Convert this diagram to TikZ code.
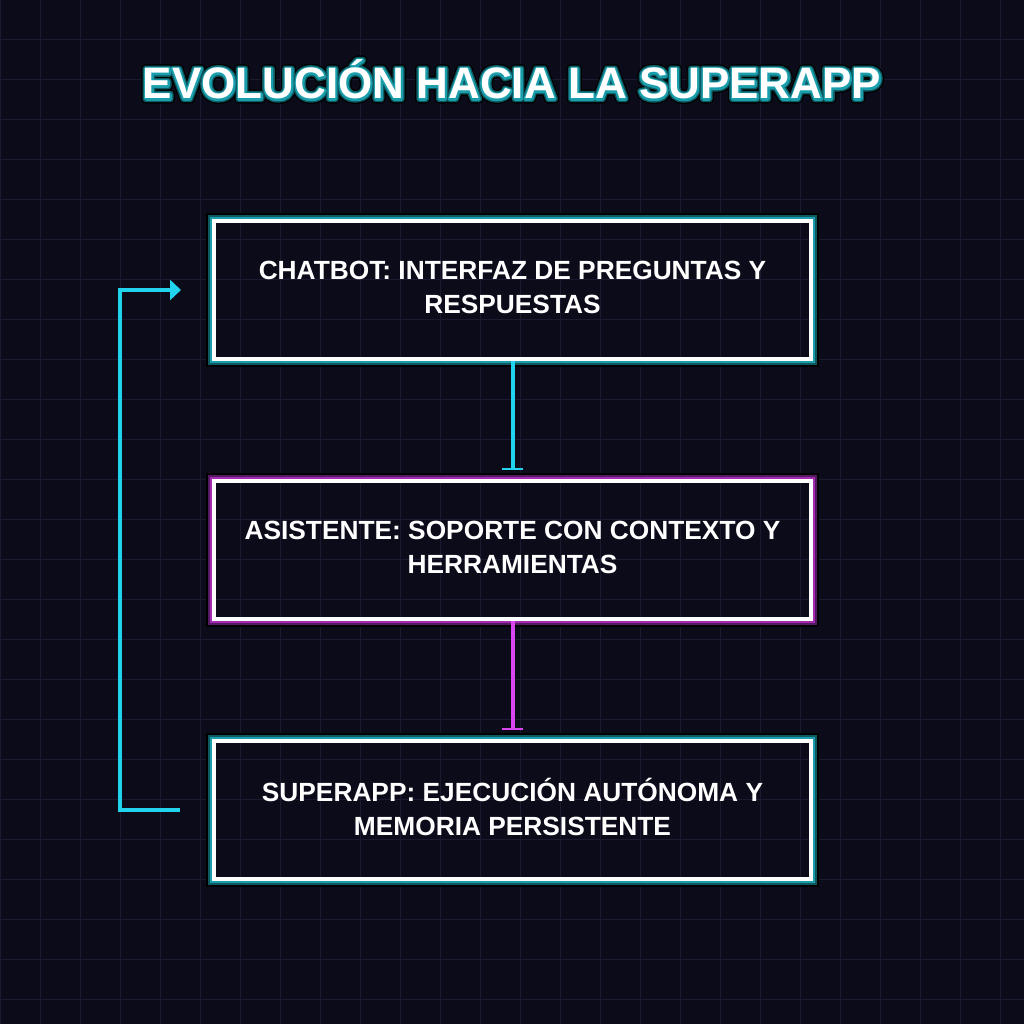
\documentclass[tikz,border=0pt]{standalone}
\usepackage{fontspec}
\setmainfont{Liberation Sans}
\usetikzlibrary{arrows.meta}
\definecolor{nightbg}{HTML}{0C0B1A}
\definecolor{gridline}{HTML}{1B1A31}
\definecolor{neoncyan}{HTML}{22D3EE}
\definecolor{neonpink}{HTML}{D946EF}
\definecolor{tealglow}{HTML}{1A9EAC}
\definecolor{tealdeep}{HTML}{0E5860}
\definecolor{pinkglow}{HTML}{A22BB2}
\definecolor{pinkdeep}{HTML}{561964}

%% 文字描邊: #1 = 描邊顏色 (RGB), #2 = 線寬
\newcommand\rimtext[3]{\special{pdf:literal direct #1 RG #2 w 1 j 1 Tr}#3\special{pdf:literal direct 0 Tr}}

\begin{document}
\begin{tikzpicture}[x=1pt, y=1pt, >=stealth,
    stage/.style={draw=white, line width=3.5pt, outer sep=0pt, inner sep=0pt,
                  minimum width=597pt, minimum height=138pt, text=white, align=center,
                  text depth=6pt, font=\bfseries\fontsize{26.3}{34}\selectfont},
    flow/.style={line width=4pt, -{Bar[width=21pt, line width=2pt]}},
    loopback/.style={draw=neoncyan, line width=3.5pt, -{Triangle[length=11pt, width=20pt]}},
    headline/.style={font=\bfseries\fontsize{44}{50}\selectfont, inner sep=0pt, anchor=base, text=white}]

  %% 背景與格線
  \fill[nightbg] (0,0) rectangle (1024,1024);
  \useasboundingbox (0,0) rectangle (1024,1024);
  \foreach \k in {0,40,...,1000} {
    \draw[gridline, line width=1pt] (\k,0) -- (\k,1024);
    \draw[gridline, line width=1pt] (0,1024-\k) -- (1024,1024-\k);
  }

  %% 標題 (三層描邊 + 白字)
  \node[headline] (title-shade) at (512,925) {\rimtext{0 0 0}{9}{EVOLUCIÓN HACIA LA SUPERAPP}};
  \node[headline] (title-dark)  at (512,925) {\rimtext{0.055 0.345 0.376}{6.4}{EVOLUCIÓN HACIA LA SUPERAPP}};
  \node[headline] (title-glow)  at (512,925) {\rimtext{0.102 0.62 0.675}{3.6}{EVOLUCIÓN HACIA LA SUPERAPP}};
  \node[headline] (title)       at (512,925) {EVOLUCIÓN HACIA LA SUPERAPP};

  %% 三個階段
  \node[stage] (chat)  at (512.5,734) {CHATBOT: INTERFAZ DE PREGUNTAS Y\\RESPUESTAS};
  \node[stage] (asis)  at (512.5,474) {ASISTENTE: SOPORTE CON CONTEXTO Y\\HERRAMIENTAS};
  \node[stage] (super) at (512.5,214) {SUPERAPP: EJECUCIÓN AUTÓNOMA Y\\MEMORIA PERSISTENTE};

  %% 方框外的光暈
  \foreach \n/\hi/\lo in {chat/tealglow/tealdeep, asis/pinkglow/pinkdeep, super/tealglow/tealdeep} {
    \draw[\hi, line width=2pt] ([shift={(-2.75,2.75)}]\n.north west) rectangle ([shift={(2.75,-2.75)}]\n.south east);
    \draw[\lo, line width=2pt] ([shift={(-4.75,4.75)}]\n.north west) rectangle ([shift={(4.75,-4.75)}]\n.south east);
    \draw[black, line width=2.2pt] ([shift={(-6.85,6.85)}]\n.north west) rectangle ([shift={(6.85,-6.85)}]\n.south east);
  }

  %% 連接線
  \draw[flow, neoncyan] ([yshift=-1.75]chat.south) -- ([yshift=10.5]asis.north);
  \draw[flow, neonpink] ([yshift=-1.75]asis.south) -- ([yshift=10.5]super.north);
  \draw[loopback] ([xshift=-34]super.west) -- ++(-60,0) |- ([xshift=-33]chat.west);

\end{tikzpicture}
\end{document}
